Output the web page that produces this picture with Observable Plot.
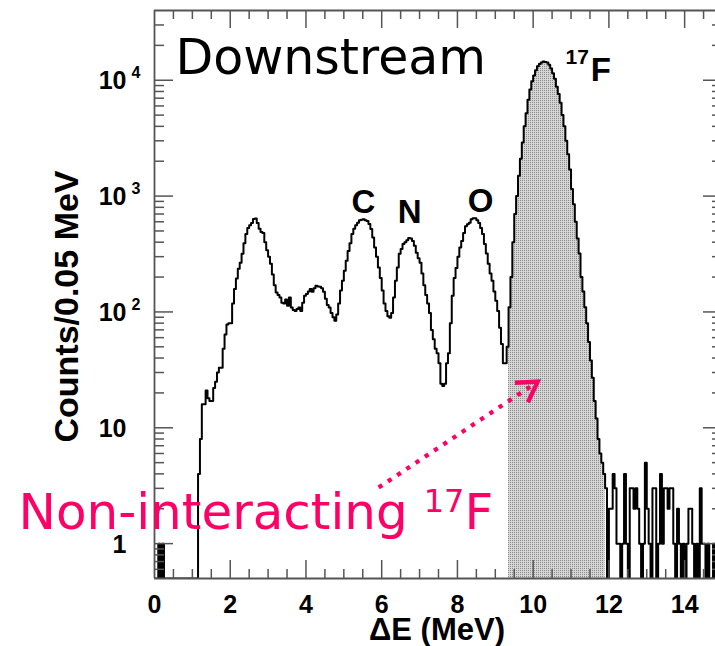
<!DOCTYPE html>
<html>
<head>
<meta charset="utf-8">
<script src="https://cdn.jsdelivr.net/npm/d3@7"></script>
<script src="https://cdn.jsdelivr.net/npm/@observablehq/plot@0.6"></script>
<style>
  html, body { margin: 0; padding: 0; background: #fff; }
  #chart { width: 715px; height: 646px; overflow: hidden; }
</style>
</head>
<body>
<div id="chart"></div>
<script>
// Energy-loss spectrum measured downstream, 0.05 MeV bins from 0 to 15 MeV
const binWidth = 0.05;
const counts = [
  // 0.00 – 0.95
  0, 0, 1, 0, 1, 0, 0, 0, 0, 0, 0, 0, 0, 0, 0, 0, 0, 0, 0, 0,
  // 1.00 – 1.95
  0, 0, 0, 4, 8, 16, 16, 21, 18, 17, 17, 22, 25, 30, 33, 33, 48, 64, 78, 80,
  // 2.00 – 2.95
  80, 118, 158, 194, 236, 266, 318, 392, 471, 530, 560, 585, 635, 640, 585, 523, 490, 480, 400, 340,
  // 3.00 – 3.95
  300, 260, 210, 170, 147, 140, 133, 120, 118, 128, 113, 133, 109, 104, 102, 106, 109, 102, 120, 138,
  // 4.00 – 4.95
  143, 150, 158, 149, 160, 168, 166, 165, 160, 149, 130, 115, 109, 98, 90, 84, 95, 118, 153, 186,
  // 5.00 – 5.95
  227, 276, 336, 392, 471, 523, 560, 590, 620, 625, 630, 620, 610, 575, 520, 440, 360, 300, 242, 196,
  // 6.00 – 6.95
  153, 118, 102, 92, 89, 98, 133, 186, 242, 318, 350, 386, 400, 415, 434, 430, 410, 372, 325, 290,
  // 7.00 – 7.95
  266, 215, 170, 140, 118, 98, 70, 58, 48, 44, 36, 24, 23, 24, 36, 44, 80, 138, 196, 240,
  // 8.00 – 8.95
  300, 360, 410, 480, 550, 570, 590, 630, 645, 645, 620, 585, 530, 471, 386, 320, 260, 215, 186, 150,
  // 9.00 – 9.95
  125, 102, 73, 53, 36, 36, 50, 110, 200, 400, 700, 1000, 1500, 2100, 2900, 4000, 5200, 6800, 8300, 9800,
  // 10.00 – 10.95
  11000, 12200, 13200, 13800, 14200, 14500, 14400, 14200, 13600, 12600, 11500, 10300, 8800, 7600, 6400, 5000, 4000, 3000, 2300, 1700,
  // 11.00 – 11.95
  1150, 850, 600, 430, 320, 200, 150, 110, 80, 55, 38, 27, 17, 12, 8, 6, 5, 4, 3, 0,
  // 12.00 – 12.95
  2, 2, 4, 3, 1, 1, 0, 1, 4, 1, 0, 3, 3, 2, 3, 2, 1, 0, 1, 5,
  // 13.00 – 13.95
  2, 1, 0, 3, 3, 0, 1, 4, 1, 3, 3, 2, 3, 3, 1, 0, 2, 1, 0, 1,
  // 14.00 – 14.95
  0, 1, 2, 2, 1, 0, 1, 0, 3, 1, 1, 0, 1, 0, 0, 1, 0, 0, 0, 0
];

// Gate on the non-interacting 17F peak (MeV)
const gateLow = 9.35;
const gateHigh = 11.90;

// Axis ticks
const xTickLabels = [0, 2, 4, 6, 8, 10, 12, 14];
const xMajorTicks = [2, 4, 6, 8, 10, 12, 14];
const xMinorTicks = d3.range(0.5, 15, 0.5).filter(v => v % 2 !== 0);
const yDecades = [1, 10, 100, 1000, 10000];
const yDecadeBase = ["1", "10", "10", "10", "10"];
const yDecadeExp = ["", "", "2", "3", "4"];
const yMinorTicks = [0.6, 0.7, 0.8, 0.9]
  .concat(...[1, 10, 100, 1000].map(d => [2, 3, 4, 5, 6, 7, 8, 9].map(m => m * d)))
  .concat([20000, 30000]);

// Peak annotations: label, energy (MeV), counts at label baseline
const peakNames = ["C", "N", "O"];
const peakEnergy = [5.52, 6.74, 8.61];
const peakCounts = [710, 580, 725];

// Arrow from the caption to the gated peak (MeV, counts)
const arrowFrom = [5.92, 3.05];
const arrowTo = [10.12, 25];

const pink = "#ff0066";
const axisGrey = "#555";
const boldFont = "'Liberation Sans', Arial, Helvetica, sans-serif";
const plainFont = "'DejaVu Sans', Verdana, sans-serif";

// ---- tables for the marks ----
const yFloor = 0.5; // bottom of the log axis; empty bins are drawn down to it
const yTop = 4e4;
const nBins = counts.length;
const steps = counts.map((c, i) => ({x: i * binWidth, y: Math.max(c, yFloor)}));
steps.push({x: nBins * binWidth, y: steps[nBins - 1].y});

const eps = 1e-9;
const gated = counts
  .map((c, i) => ({x: i * binWidth, y: Math.max(c, yFloor)}))
  .filter(d => d.x >= gateLow - eps && d.x < gateHigh - eps);
gated.push({x: gateHigh, y: gated[gated.length - 1].y});

const decades = yDecades.map((v, i) => ({value: v, base: yDecadeBase[i], exp: yDecadeExp[i]}));
const peaks = peakNames.map((n, i) => ({name: n, x: peakEnergy[i], y: peakCounts[i]}));

const W = 715, H = 646;
const mL = 154, mR = 0, mT = 10, mB = 68;
const innerW = W - mL - mR;   // 561 (axis continues past the right edge)
const innerH = H - mT - mB;   // 568

const tickStyle = {stroke: axisGrey, strokeWidth: 1.5};
const boldText = {fontFamily: boldFont, fontWeight: "bold", fill: "black"};

const chart = Plot.plot({
  width: W,
  height: H,
  marginLeft: mL,
  marginRight: mR,
  marginTop: mT,
  marginBottom: mB,
  style: {background: "white", overflow: "hidden"},
  x: {domain: [0, 15], range: [mL, mL + 568], axis: null},
  y: {type: "log", domain: [yFloor, yTop], axis: null},
  marks: [
    // gated 17F events, dotted grey fill
    Plot.areaY(gated, {x: "x", y1: () => yFloor, y2: "y", curve: "step-after", fill: "url(#gate-dots)", clip: true}),
    // full spectrum outline
    Plot.line(steps, {x: "x", y: "y", curve: "step-after", stroke: "black", strokeWidth: 2, clip: true}),

    // frame lines
    Plot.ruleY([yFloor, yTop], {...tickStyle, strokeWidth: 1.8}),
    Plot.ruleX([0], {...tickStyle, strokeWidth: 1.8}),

    // x ticks, bottom and top
    Plot.ruleX(xMajorTicks, {...tickStyle, insetTop: innerH - 18}),
    Plot.ruleX(xMinorTicks, {...tickStyle, insetTop: innerH - 9}),
    Plot.ruleX(xMajorTicks, {...tickStyle, insetBottom: innerH - 18}),
    Plot.ruleX(xMinorTicks, {...tickStyle, insetBottom: innerH - 9}),

    // y ticks, left and right (the right axis sits at 15 MeV)
    Plot.ruleY(yDecades, {...tickStyle, insetRight: innerW - 19}),
    Plot.ruleY(yMinorTicks, {...tickStyle, insetRight: innerW - 10}),
    Plot.ruleY(yDecades, {...tickStyle, insetLeft: innerW - 12}),
    Plot.ruleY(yMinorTicks, {...tickStyle, insetLeft: innerW - 3}),

    // tick labels
    Plot.text(xTickLabels, {x: d => d, text: d => String(d), frameAnchor: "bottom", dy: 26, lineAnchor: "middle", fontSize: 25, ...boldText}),
    Plot.text(decades, {y: "value", text: "base", frameAnchor: "left", textAnchor: "end", dx: -28, dy: 1, lineAnchor: "middle", fontSize: 25, ...boldText}),
    Plot.text(decades.filter(d => d.exp), {y: "value", text: "exp", frameAnchor: "left", textAnchor: "start", dx: -23, dy: -7, lineAnchor: "middle", fontSize: 16, ...boldText}),

    // axis titles
    Plot.text(["\u0394E (MeV)"], {frameAnchor: "bottom", textAnchor: "middle", dx: 2, dy: 61, lineAnchor: "bottom", fontSize: 31, ...boldText}),
    Plot.text(["Counts/0.05 MeV"], {frameAnchor: "left", textAnchor: "middle", rotate: -90, dx: -87, dy: 12, lineAnchor: "middle", fontSize: 34, ...boldText}),

    // peak labels
    Plot.text(peaks, {x: "x", y: "y", text: "name", lineAnchor: "bottom", fontSize: 33, ...boldText}),
    Plot.text(["17F"], {frameAnchor: "top-left", dx: 411, dy: 70, textAnchor: "start", lineAnchor: "bottom", fontSize: 33, ...boldText}),

    // panel title
    Plot.text(["Downstream"], {frameAnchor: "top-left", dx: 21, dy: 63, textAnchor: "start", lineAnchor: "bottom", fontSize: 49, fontFamily: plainFont, fill: "black"}),

    // caption and arrow
    Plot.link([0], {x1: () => arrowFrom[0], y1: () => arrowFrom[1], x2: () => arrowTo[0], y2: () => arrowTo[1],
      stroke: pink, strokeWidth: 4.3, strokeDasharray: "4.3 6.8"}),
    Plot.text(["Non-interacting 17F"], {frameAnchor: "bottom-left", dx: -136, dy: -50, textAnchor: "start", lineAnchor: "bottom", fontSize: 50, fontFamily: plainFont, fill: pink})
  ]
});

document.getElementById("chart").appendChild(chart);

// pattern for the gated fill and arrowhead marker
const svg = d3.select(chart);
const defs = svg.insert("defs", ":first-child");
const pat = defs.append("pattern")
  .attr("id", "gate-dots")
  .attr("patternUnits", "userSpaceOnUse")
  .attr("width", 2).attr("height", 2);
pat.append("rect").attr("width", 2).attr("height", 2).attr("fill", "#d6d6d6");
pat.append("rect").attr("width", 1).attr("height", 1).attr("fill", "#8a8a8a");

const marker = defs.append("marker")
  .attr("id", "pink-head")
  .attr("markerUnits", "userSpaceOnUse")
  .attr("orient", "auto")
  .attr("viewBox", "-30 -20 40 40")
  .attr("markerWidth", 40).attr("markerHeight", 40)
  .attr("refX", 0).attr("refY", 0)
  .attr("overflow", "visible");
marker.append("path")
  .attr("d", "M-19.5,-11.7L0,0L-19.5,11.7")
  .attr("fill", "none")
  .attr("stroke", pink)
  .attr("stroke-width", 4.3);
svg.selectAll("g[aria-label='link'] path").attr("marker-end", "url(#pink-head)");

// superscript mass numbers: "17F" -> ¹⁷F
svg.selectAll("text").each(function () {
  const t = d3.select(this);
  const s = this.textContent;
  if (s === "Non-interacting 17F") {
    t.text(null);
    t.append("tspan").text("Non-interacting ");
    t.append("tspan").attr("font-size", 32).attr("dy", -17).text("17");
    t.append("tspan").attr("font-size", 50).attr("dy", 17).text("F");
  } else if (s === "17F") {
    t.text(null);
    t.append("tspan").attr("font-size", 21).attr("dy", -17).text("17");
    t.append("tspan").attr("font-size", 33).attr("dy", 17).attr("dx", 2).text("F");
  }
});
</script>
</body>
</html>
